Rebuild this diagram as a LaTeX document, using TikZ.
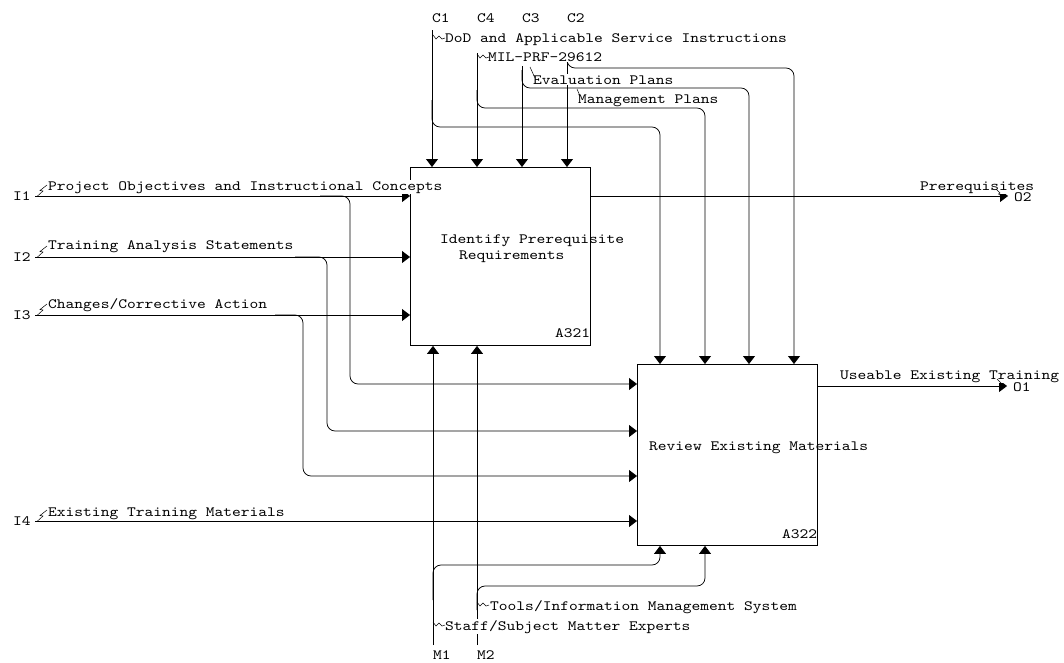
\documentclass[tikz,border=0pt]{standalone}
\usepackage{fontspec}
\newfontfamily\cour[Extension=.otf, FakeStretch=1.175]{lmmono10-regular}
\usetikzlibrary{arrows.meta,calc}
\begin{document}
\begin{tikzpicture}[x=1pt,y=-1pt,
  every node/.style={font=\cour\fontsize{14.2}{16}\selectfont, inner sep=0pt},
  lbl/.style={anchor=base west, fill=white, inner sep=1pt},
  txt/.style={anchor=base west},
  fbox/.style={draw, line width=0.9pt, minimum width=180pt, minimum height=178pt, anchor=north west},
  con/.style={line width=0.75pt},
  arr/.style={con, -{Triangle[length=8pt,width=12pt]}},
  rc/.style={rounded corners=8pt},
  lead/.style={line width=0.5pt}]
\useasboundingbox (0,0) rectangle (1064,662);

% boxes
\node[fbox] (A321) at (410,167) {};
\node[fbox, minimum height=181pt] (A322) at (637,364) {};

% control top ends
\coordinate (C1t) at (432,30);
\coordinate (C4t) at (477,53);
\coordinate (C3t) at (522,66);
\coordinate (C2t) at (567,62);
% branch corners
\coordinate (K1) at (660,127);
\coordinate (K4) at (705,108);
\coordinate (K3) at (749,88);
\coordinate (K2) at (794,68);

% controls to A321
\draw[arr] (C1t) -- (C1t |- A321.north);
\draw[arr] (C4t) -- (C4t |- A321.north);
\draw[arr] (C3t) -- (C3t |- A321.north);
\draw[arr] (C2t) -- (C2t |- A321.north);
% controls to A322
\draw[arr,rc] (432,100) -- (C1t |- K1) -- (K1) -- (K1 |- A322.north);
\draw[arr,rc] (477,90) -- (C4t |- K4) -- (K4) -- (K4 |- A322.north);
\draw[arr,rc] (522,70) -- (C3t |- K3) -- (K3) -- (K3 |- A322.north);
\draw[arr,rc] (C2t) -- (C2t |- K2) -- (K2) -- (K2 |- A322.north);

% inputs
\coordinate (I1s) at (35,196);
\coordinate (I2s) at (35,257);
\coordinate (I3s) at (35,315);
\coordinate (I4s) at (35,521);
\coordinate (J1) at (350,384);
\coordinate (J2) at (327,431);
\coordinate (J3) at (303,476);
\draw[arr] (I1s) -- (I1s -| A321.west);
\draw[arr] (I2s) -- (I2s -| A321.west);
\draw[arr] (I3s) -- (I3s -| A321.west);
\draw[arr] (I4s) -- (I4s -| A322.west);
\draw[arr,rc] (320,196) -| (J1) -- (J1 -| A322.west);
\draw[arr,rc] (295,257) -| (J2) -- (J2 -| A322.west);
\draw[arr,rc] (275,315) -| (J3) -- (J3 -| A322.west);

% outputs
\coordinate (O2e) at (1008,196);
\coordinate (O1e) at (1007,386);
\draw[arr] (O2e -| A321.east) -- (O2e);
\draw[arr] (O1e -| A322.east) -- (O1e);

% mechanisms
\coordinate (M1b) at (433,645);
\coordinate (M2b) at (477,645);
\coordinate (L1) at (660,565);
\coordinate (L2) at (705,586);
\draw[arr] (M1b) -- (M1b |- A321.south);
\draw[arr] (M2b) -- (M2b |- A321.south);
\draw[arr,rc] (433,600) |- (L1) -- (L1 |- A322.south);
\draw[arr,rc] (477,610) |- (L2) -- (L2 |- A322.south);

% box texts
\node[txt] (t321a) at (440,243) {Identify Prerequisite};
\node[txt] (t321b) at (459,259) {Requirements};
\node[txt] (n321) at (555,337) {A321};
\node[txt] (t322) at (649,450) {Review Existing Materials};
\node[txt] (n322) at (782,538) {A322};

% arrow labels
\node[lbl] (lDoD) at (444,42) {DoD and Applicable Service Instructions};
\node[lbl] (lMIL) at (487,61) {MIL-PRF-29612};
\node[lbl] (lEval) at (532,84) {Evaluation Plans};
\node[lbl] (lMan) at (577,103) {Management Plans};
\node[lbl] (lPO) at (47,190) {Project Objectives and Instructional Concepts};
\node[lbl] (lTA) at (47,249) {Training Analysis Statements};
\node[lbl] (lCC) at (47,308) {Changes/Corrective Action};
\node[lbl] (lET) at (47,516) {Existing Training Materials};
\node[lbl] (lPre) at (919,190) {Prerequisites};
\node[lbl] (lUse) at (839,379) {Useable Existing Training};
\node[lbl] (lTools) at (489,610) {Tools/Information Management System};
\node[lbl] (lStaff) at (444,630) {Staff/Subject Matter Experts};

% ICOM codes
\node[txt] (c1) at (432,22) {C1};
\node[txt] (c4) at (477,22) {C4};
\node[txt] (c3) at (522,22) {C3};
\node[txt] (c2) at (567,22) {C2};
\node[txt] (i1) at (13,200) {I1};
\node[txt] (i2) at (13,261) {I2};
\node[txt] (i3) at (13,319) {I3};
\node[txt] (i4) at (13,525) {I4};
\node[txt] (o2) at (1014,201) {O2};
\node[txt] (o1) at (1013,391) {O1};
\node[txt] (m1) at (433,659) {M1};
\node[txt] (m2) at (477,659) {M2};

% leaders (squiggles)
\draw[lead] (433,35) -- (436,39) -- (439,36) -- (442,39) -- (445,38);
\draw[lead] (477,54) -- (480,58) -- (483,55) -- (486,58) -- (489,57);
\draw[lead] (530,67) -- (535,78);
\draw[lead] (577,89) -- (580,96);
\foreach \yy in {196,257,315,521}{
  \draw[lead] (37,\yy+0.5) -- (43,\yy-5) -- (40,\yy-5.5) -- (47,\yy-11);
}
\draw[lead] (996,189) -- (1000,193) -- (998.5,194) -- (1004,198);
\draw[lead] (997,379) -- (1001,383) -- (999.5,384) -- (1005,388);
\draw[lead] (477,602) -- (480,606) -- (483,603) -- (486,606) -- (489,605);
\draw[lead] (433,622) -- (436,626) -- (439,623) -- (442,626) -- (445,625);
\end{tikzpicture}
\end{document}
